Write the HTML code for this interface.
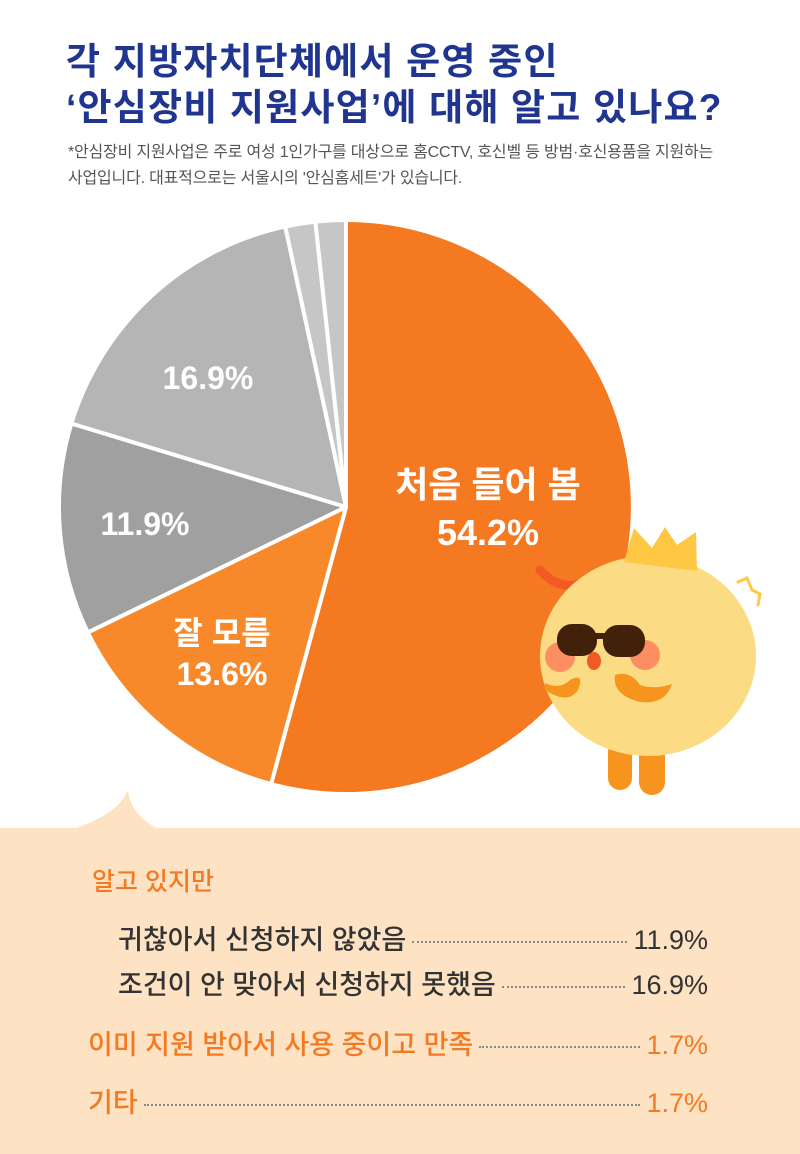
<!DOCTYPE html>
<html><head><meta charset="utf-8"><style>
body{margin:0;width:800px;height:1154px;background:#fff;overflow:hidden;position:relative;font-family:"Liberation Sans","Noto Sans CJK KR",sans-serif}
.t{position:absolute;left:66px;color:#1f3590;font-weight:bold;font-size:37px;letter-spacing:1.2px;line-height:48px}
.s{position:absolute;left:68px;color:#555;font-size:16px;line-height:26px;letter-spacing:-0.2px}
.row{position:absolute;font-size:27px;font-weight:500;display:flex;align-items:baseline;right:92px}
.dots{flex:1;border-bottom:2px dotted #888;margin:0 6px;transform:translateY(-6px)}
</style></head><body>
<div class="t" style="top:38px">각 지방자치단체에서 운영 중인</div>
<div class="t" style="top:84px">‘안심장비 지원사업’에 대해 알고 있나요?</div>
<div class="s" style="top:140px">*안심장비 지원사업은 주로 여성 1인가구를 대상으로 홈CCTV, 호신벨 등 방범·호신용품을 지원하는<br>사업입니다. 대표적으로는 서울시의 '안심홈세트'가 있습니다.</div>
<svg width="800" height="1154" style="position:absolute;left:0;top:0">
<path d="M70 830 Q118 815 128 790 Q130 815 160 830 Z" fill="#fde2c4"/>
<rect x="0" y="828" width="800" height="326" fill="#fde2c4"/>
<g stroke="#fff" stroke-width="4" stroke-linejoin="round">
<path d="M346 507 L346 220 A287 287 0 1 1 271.1 784.1Z" fill="#f47920"/>
<path d="M346 507 L271.1 784.1 A287 287 0 0 1 87.8 632.4Z" fill="#f7892a"/>
<path d="M346 507 L87.8 632.4 A287 287 0 0 1 71.4 423.5Z" fill="#a0a0a0"/>
<path d="M346 507 L71.4 423.5 A287 287 0 0 1 285.2 226.5Z" fill="#b5b5b5"/>
<path d="M346 507 L285.2 226.5 A287 287 0 0 1 315.4 221.6Z" fill="#c6c6c6"/>
<path d="M346 507 L315.4 221.6 A287 287 0 0 1 346 220Z" fill="#c6c6c6"/>
</g>
<g fill="#fff" font-weight="bold" font-family="Liberation Sans,Noto Sans CJK KR,sans-serif" text-anchor="middle">
<text x="488" y="497" font-size="36">처음 들어 봄</text>
<text x="488" y="545" font-size="36">54.2%</text>
<text x="208" y="389" font-size="32">16.9%</text>
<text x="145" y="535" font-size="32">11.9%</text>
<text x="222" y="644" font-size="32">잘 모름</text>
<text x="222" y="685" font-size="32">13.6%</text>
</g>
<path d="M540 570 Q565 598 598 575" stroke="#f15a24" stroke-width="9" fill="none" stroke-linecap="round"/>
<rect x="608" y="740" width="24" height="50" rx="12" fill="#f7941d"/>
<rect x="639" y="740" width="26" height="55" rx="13" fill="#f7941d"/>
<ellipse cx="648" cy="656" rx="108" ry="100" fill="#fbdc85"/>
<path d="M624 562 L634 528 L652 548 L665 527 L677 545 L696 532 L697 571 Z" fill="#ffc844"/>
<path d="M738 582 L747 578 L752 590 L760 594 L758 605" stroke="#ffc844" stroke-width="3" fill="none" stroke-linecap="round"/>
<circle cx="560" cy="657" r="15" fill="#fd8e62"/><circle cx="645" cy="655" r="15" fill="#fd8e62"/>
<rect x="557" y="624" width="40" height="32" rx="15" fill="#42210b"/>
<rect x="603" y="625" width="42" height="32" rx="15" fill="#42210b"/>
<rect x="592" y="633" width="16" height="6" fill="#42210b"/>
<ellipse cx="594" cy="661" rx="7" ry="9" fill="#f15a24"/>
<path d="M545 683 Q560 690 570 680 Q585 672 578 690 Q568 705 545 690Z" fill="#f7941d"/>
<path d="M615 675 Q630 670 640 685 Q655 690 672 684 Q665 705 640 702 Q612 695 615 675Z" fill="#f7941d"/>
</svg>
<div style="position:absolute;left:92px;top:862px;font-size:25px;font-weight:500;color:#f47920">알고 있지만</div>
<div class="row" style="left:118px;top:918px;color:#333"><span>귀찮아서 신청하지 않았음</span><span class="dots"></span><span>11.9%</span></div>
<div class="row" style="left:118px;top:963px;color:#333"><span>조건이 안 맞아서 신청하지 못했음</span><span class="dots"></span><span>16.9%</span></div>
<div class="row" style="left:88px;top:1023px;color:#f47920"><span>이미 지원 받아서 사용 중이고 만족</span><span class="dots"></span><span>1.7%</span></div>
<div class="row" style="left:88px;top:1081px;color:#f47920"><span>기타</span><span class="dots"></span><span>1.7%</span></div>
</body></html>
